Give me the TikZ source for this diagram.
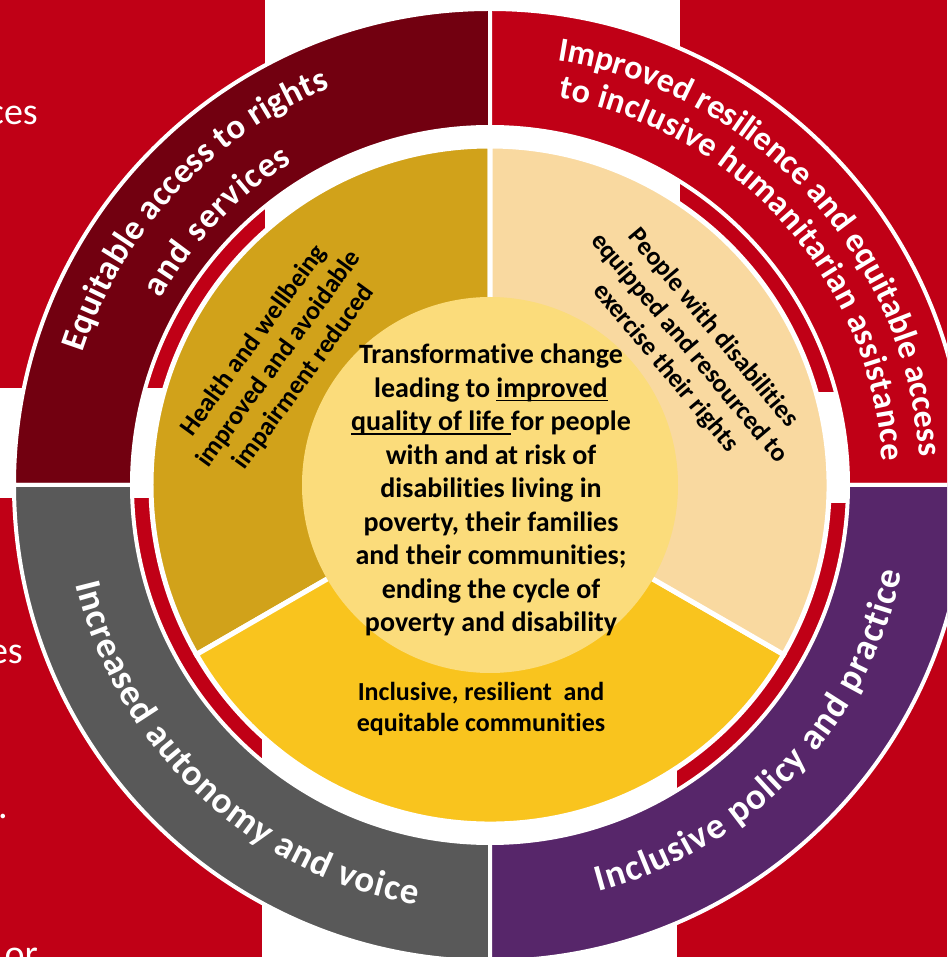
\documentclass[tikz,border=0pt]{standalone}
\usepackage{fontspec}
\setmainfont{Carlito}[Ligatures=NoCommon]
\usetikzlibrary{decorations.text}
\definecolor{color1}{HTML}{C00016}
\definecolor{color2}{HTML}{720010}
\definecolor{color3}{HTML}{595959}
\definecolor{color4}{HTML}{57266A}
\definecolor{color5}{HTML}{D1A21A}
\definecolor{color6}{HTML}{F9D9A0}
\definecolor{color7}{HTML}{F9C41E}
\definecolor{color8}{HTML}{FBDC7B}
\newcommand{\ulword}[1]{\setbox0=\hbox{#1}\rlap{\rule[-4pt]{\wd0}{1.6pt}}\box0}
\tikzset{
  ringpart/.style={fill=#1,draw=white,line width=4pt},
  discpart/.style={fill=#1,draw=white,line width=5pt},
  arclabel/.style 2 args={decorate,decoration={text along path,text align=fit to path,text color=white,text={|\fontsize{#1}{#1}\selectfont\bfseries|#2}}},
  sectortext/.style={font=\fontsize{26}{31}\selectfont\bfseries,align=center,inner sep=0pt},
  fragment/.style={font=\fontsize{38}{38}\selectfont,text=white,anchor=base east,inner sep=0pt}
}
\begin{document}
\begin{tikzpicture}[x=1pt,y=1pt]
\useasboundingbox (-490,-472) rectangle (457,485);
\clip (-490,-472) rectangle (457,485);
\fill[white] (-490,-472) rectangle (457,485);
\fill[color1] (-490,97) rectangle (-225,485); \fill[color1] (190,93) rectangle (457,485);
\fill[color1] (-490,-472) rectangle (-228,-13); \fill[color1] (187,-472) rectangle (457,-18);
\node[fragment] (fragA) at (-452,360) {ces};
\node[fragment] (fragB) at (-467,-178) {es};
\node[fragment] (fragC) at (-482,-333) {.};
\node[fragment] (fragD) at (-452,-481) {or};

\foreach \a/\c in {90/color2,0/color1,180/color3,270/color4}
  \filldraw[ringpart=\c] (\a:476) arc[start angle=\a,delta angle=90,radius=476] -- (\a+90:358) arc[start angle=\a+90,delta angle=-90,radius=358] -- cycle;
\foreach \a/\c in {90/color5,210/color7,330/color6}
  \filldraw[discpart=\c] (0,0) -- (\a:339) arc[start angle=\a,delta angle=120,radius=339] -- cycle;
\fill[color8] (0,0) circle[radius=188];

\path[arclabel={35}{Equitable access to rights}] (162:428) arc[start angle=162,end angle=112,radius=428];
\path[arclabel={35}{and services}] (150.5:378) arc[start angle=150.5,end angle=121.5,radius=378];
\path[arclabel={34}{Improved resilience and equitable access}] (81:430) arc[start angle=81,end angle=4,radius=430];
\path[arclabel={34}{to inclusive humanitarian assistance}] (80:393) arc[start angle=80,end angle=3.5,radius=393];
\path[arclabel={37}{Increased autonomy and voice}] (193.5:426) arc[start angle=193.5,end angle=260,radius=426];
\path[arclabel={37}{Inclusive policy and practice}] (285:421) arc[start angle=285,end angle=348,radius=421];

\node[sectortext,rotate=54] (health) at (-211,126) {Health and wellbeing\\improved and avoidable\\impairment reduced};
\node[sectortext,rotate=-50] (people) at (199,137) {People with disabilities\\equipped and resourced to\\exercise their rights};
\node[sectortext] (communities) at (-9,-224) {Inclusive, resilient\ \ and\\equitable communities};
\node[font=\fontsize{28}{33.5}\selectfont\bfseries,align=center,inner sep=0pt] (core) at (1,-5) {Transformative change\\leading to \ulword{improved}\\\ulword{quality of life\ }for people\\with and at risk of\\disabilities living in\\poverty, their families\\and their communities;\\ending the cycle of\\poverty and disability};
\end{tikzpicture}
\end{document}
